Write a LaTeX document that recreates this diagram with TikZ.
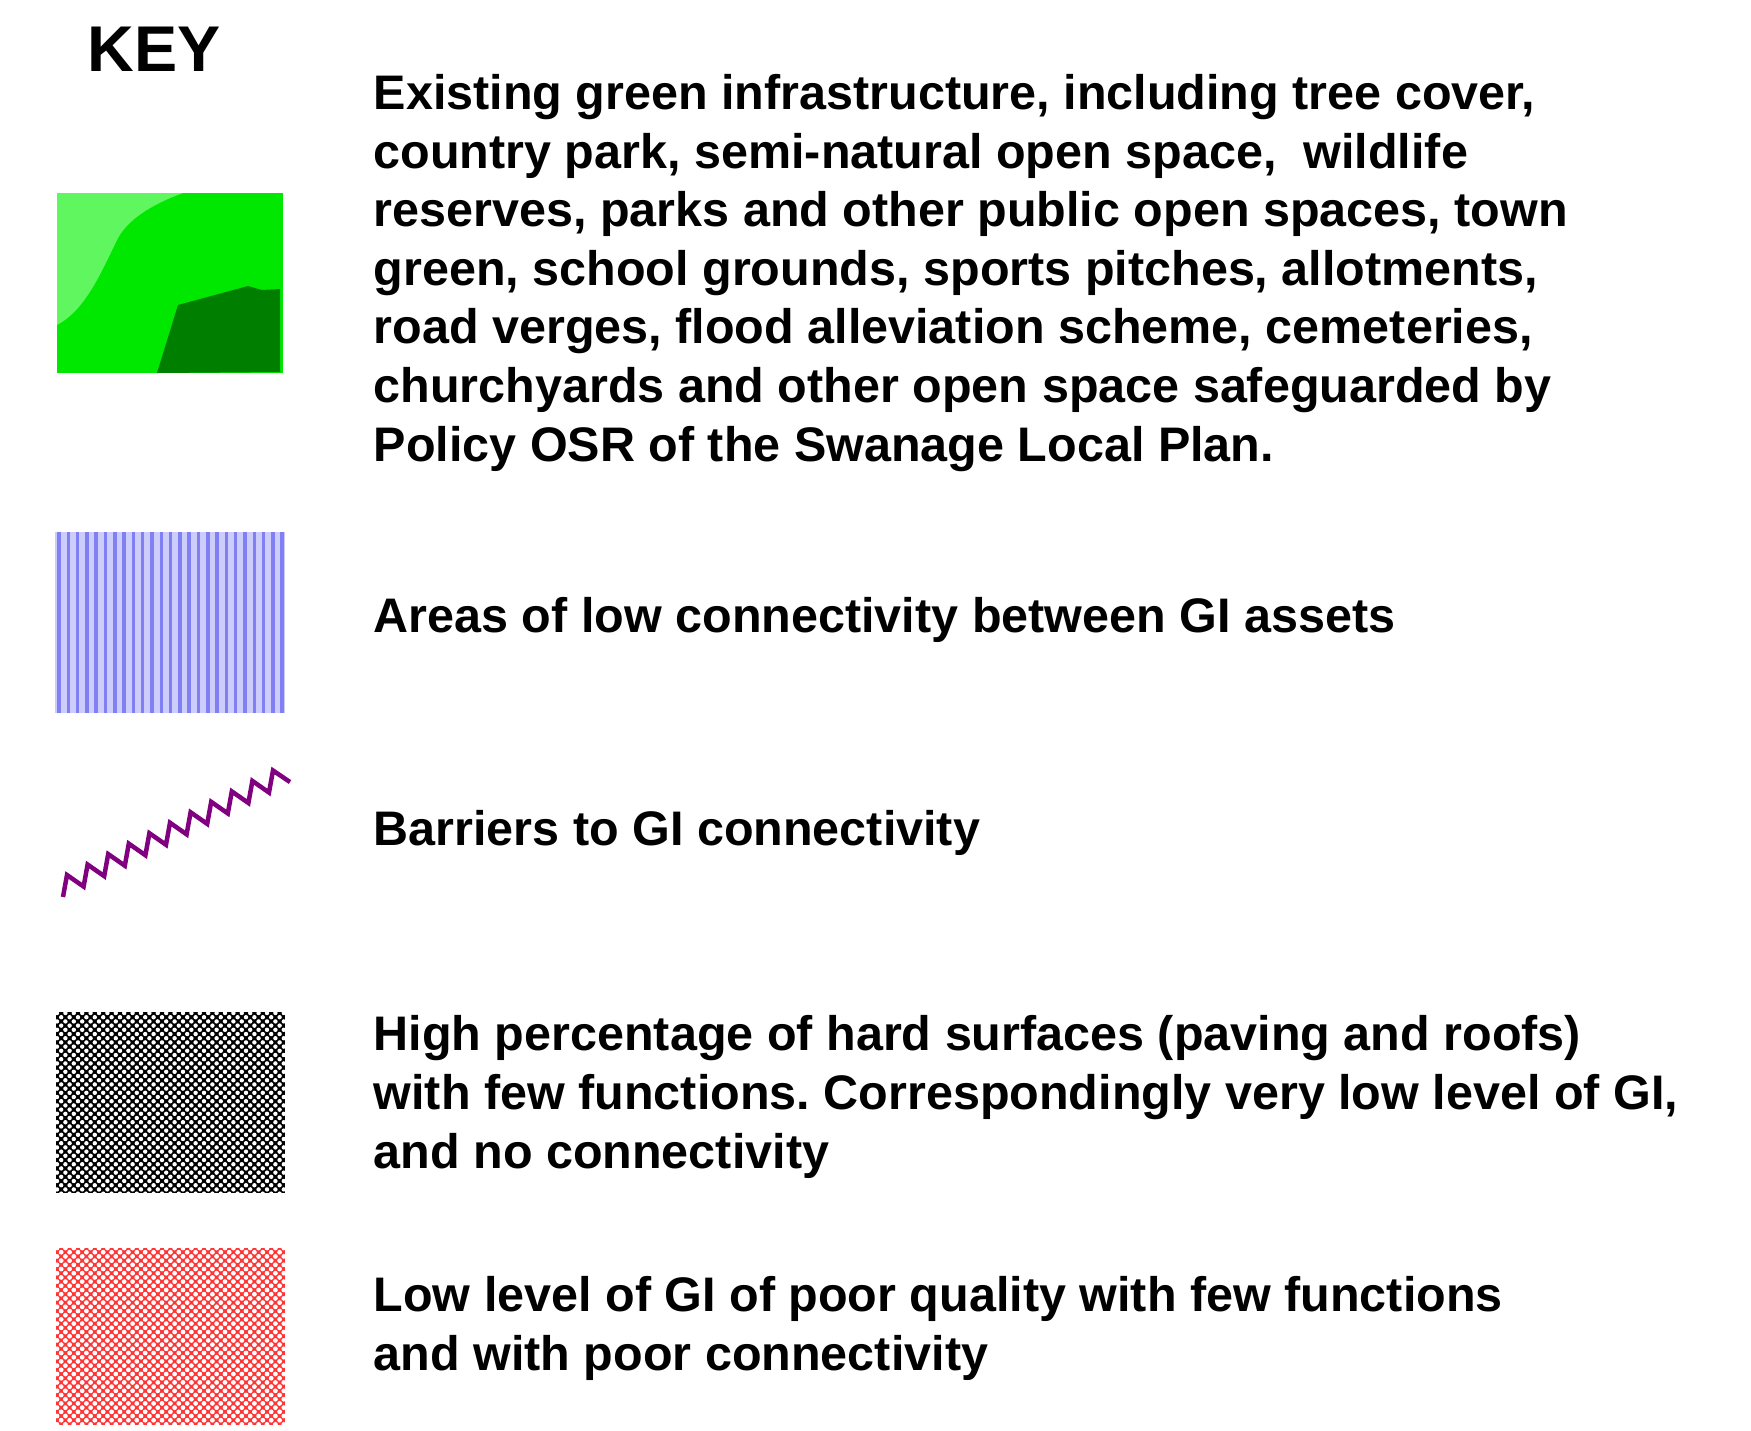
\documentclass[tikz,border=0pt]{standalone}
\usepackage{fontspec}
\setmainfont{Liberation Sans}
\frenchspacing
\definecolor{gvif}{RGB}{0,232,0}
\definecolor{gclair}{RGB}{96,246,96}
\definecolor{gfonce}{RGB}{0,126,0}
\definecolor{lavande}{RGB}{205,205,252}
\definecolor{bleuraie}{RGB}{128,128,242}
\definecolor{violet}{RGB}{128,0,128}
\definecolor{rouge}{RGB}{255,52,52}
\begin{document}
\begin{tikzpicture}[x=0.1mm,y=-0.1mm]
\tikzset{legende/.style={anchor=base west, inner sep=0pt, align=left, font=\fontsize{13.8}{16.65}\selectfont\bfseries},
  barriere/.style={violet, line width=0.45mm, line join=miter}}
\useasboundingbox (0,0) rectangle (1751,1430);
\fill[white] (0,0) rectangle (1751,1430);
\node[anchor=base west, inner sep=0pt, font=\fontsize{18.4}{22}\selectfont\bfseries] (KEY) at (87,71) {KEY};
% green infrastructure
\fill[gvif] (57,193) rectangle (283,373);
\fill[gclair] (57,193) -- (183,193) .. controls (150,205) and (128,220) .. (118,238) .. controls (100,275) and (85,310) .. (57,325) -- cycle;
\fill[gfonce] (157,373) -- (178,305) -- (248,286) -- (262,290) -- (280,289) -- (280,372) -- cycle;
% last line baseline
\node[legende] (T1) at (373,461) {Existing green infrastructure, including tree cover,\\
country park, semi-natural open space,\ \ wildlife\\
reserves, parks and other public open spaces, town\\
green, school grounds, sports pitches, allotments,\\
road verges, flood alleviation scheme, cemeteries,\\
churchyards and other open space safeguarded by\\
Policy OSR of the Swanage Local Plan.};
% low connectivity
\fill[lavande] (55,532) rectangle (285,713);
\foreach \i in {0,...,24} \draw[bleuraie, line width=0.35mm] ({59+\i*9.3},532) -- ({59+\i*9.3},713);
\node[legende] (T2) at (373,632) {Areas of low connectivity between GI assets};
% barriers
\coordinate (Z1) at (63,897);
\coordinate (Z2) at (290,782);
\draw[barriere] (Z1) \foreach \k in {1,...,10} { -- ++(4,-22) -- ++(16.6,11.55) } -- ++(4,-22) -- (Z2);
\node[legende] (T3) at (373,845) {Barriers to GI connectivity};
% hard surfaces
\begin{scope}
\clip (56,1012) rectangle (285,1193);
\fill[black] (56,1012) rectangle (285,1193);
\foreach \j in {0,...,43} \foreach \i in {0,...,27}
  \fill[white] ({57+\i*8.4+mod(\j,2)*4.2},{1013+\j*4.2}) circle (0.22mm);
\end{scope}
\node[legende] (T4) at (373,1168) {High percentage of hard surfaces (paving and roofs)\\
with few functions. Correspondingly very low level of GI,\\
and no connectivity};
% poor quality
\begin{scope}
\clip (56,1248) rectangle (285,1425);
\fill[rouge] (56,1248) rectangle (285,1425);
\foreach \j in {0,...,42} \foreach \i in {0,...,27}
  \fill[white] ({57+\i*8.4+mod(\j,2)*4.2},{1248+\j*4.2}) circle (0.24mm);
\end{scope}
\node[legende] (T5) at (373,1370) {Low level of GI of poor quality with few functions\\
and with poor connectivity};
\end{tikzpicture}
\end{document}
